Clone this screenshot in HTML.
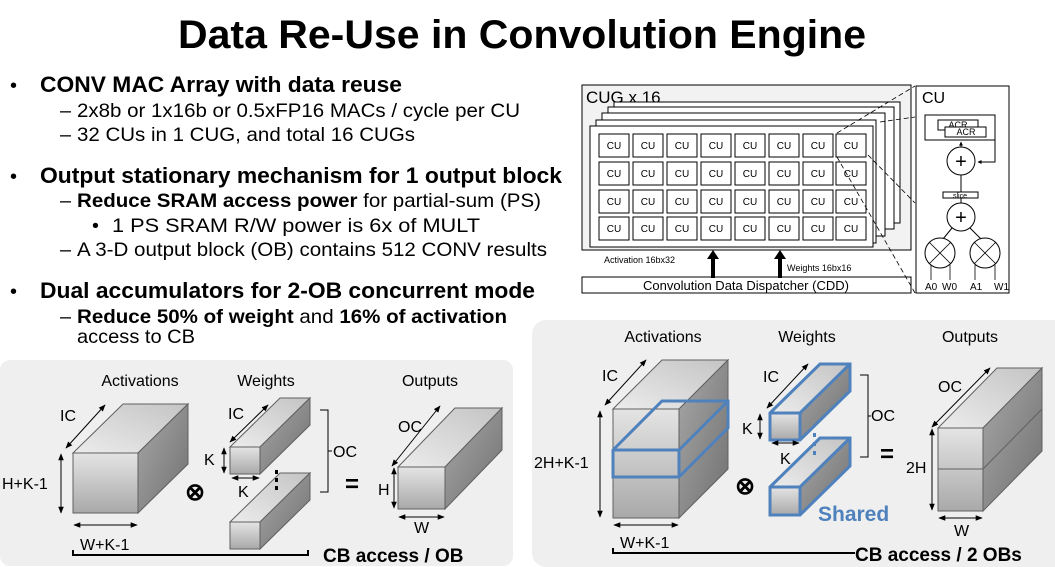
<!DOCTYPE html>
<html><head><meta charset="utf-8"><style>
html,body{margin:0;padding:0;background:#fff;}
svg{display:block;font-family:"Liberation Sans",Arial,sans-serif;}
</style></head><body>
<svg width="1055" height="567" viewBox="0 0 1055 567" xmlns="http://www.w3.org/2000/svg">
<defs>
<marker id="ah" viewBox="0 0 10 10" refX="9" refY="5" markerWidth="7" markerHeight="7" orient="auto-start-reverse"><path d="M0,1 L10,5 L0,9 z" fill="#000"/></marker>
<marker id="ab" viewBox="0 0 10 10" refX="9" refY="5" markerWidth="4" markerHeight="4" orient="auto"><path d="M0,0 L10,5 L0,10 z" fill="#000"/></marker>
<linearGradient id="gf" x1="0" y1="0" x2="0" y2="1"><stop offset="0" stop-color="#e4e4e4"/><stop offset="1" stop-color="#a9a9a9"/></linearGradient>
<linearGradient id="gt" x1="0" y1="1" x2="1" y2="0"><stop offset="0" stop-color="#ececec"/><stop offset="1" stop-color="#c4c4c4"/></linearGradient>
<linearGradient id="gr" x1="0" y1="0" x2="1" y2="1"><stop offset="0" stop-color="#a8a8a8"/><stop offset="1" stop-color="#707070"/></linearGradient>
</defs>

<!-- Title -->
<text x="522" y="48" font-size="40" font-weight="bold" text-anchor="middle" textLength="688" lengthAdjust="spacingAndGlyphs">Data Re-Use in Convolution Engine</text>

<!-- Bullets -->
<g font-size="19.8">
<text x="10" y="92" font-size="20">•</text>
<text x="40" y="92" font-size="22.5" font-weight="bold" textLength="362" lengthAdjust="spacingAndGlyphs">CONV MAC Array with data reuse</text>
<text x="60" y="117">–</text><text x="77" y="117" textLength="443" lengthAdjust="spacingAndGlyphs">2x8b or 1x16b or 0.5xFP16 MACs / cycle per CU</text>
<text x="60" y="141">–</text><text x="77" y="141" textLength="338" lengthAdjust="spacingAndGlyphs">32 CUs in 1 CUG, and total 16 CUGs</text>
<text x="10" y="183" font-size="20">•</text>
<text x="40" y="183" font-size="22.5" font-weight="bold" textLength="522" lengthAdjust="spacingAndGlyphs">Output stationary mechanism for 1 output block</text>
<text x="60" y="207">–</text><text x="77" y="207" textLength="464" lengthAdjust="spacingAndGlyphs"><tspan font-weight="bold">Reduce SRAM access power</tspan> for partial-sum (PS)</text>
<text x="92" y="232">•</text><text x="112" y="232" textLength="368" lengthAdjust="spacingAndGlyphs">1 PS SRAM R/W power is 6x of MULT</text>
<text x="60" y="256">–</text><text x="77" y="256" textLength="470" lengthAdjust="spacingAndGlyphs">A 3-D output block (OB) contains 512 CONV results</text>
<text x="10" y="298" font-size="20">•</text>
<text x="40" y="298" font-size="22.5" font-weight="bold" textLength="495" lengthAdjust="spacingAndGlyphs">Dual accumulators for 2-OB concurrent mode</text>
<text x="60" y="323">–</text><text x="77" y="323" textLength="430" lengthAdjust="spacingAndGlyphs"><tspan font-weight="bold">Reduce 50% of weight</tspan> and <tspan font-weight="bold">16% of activation</tspan></text>
<text x="77" y="343" textLength="118" lengthAdjust="spacingAndGlyphs">access to CB</text>
</g>

<!-- CUG diagram -->
<rect x="582" y="85" width="329" height="165" fill="#f2f2f2" stroke="#000" stroke-width="1"/>
<text x="586" y="103" font-size="17">CUG x 16</text>
<g fill="#fff" stroke="#000" stroke-width="1">
<rect x="614" y="102" width="286" height="121"/>
<rect x="608" y="107" width="286" height="122"/>
<rect x="602" y="113" width="283" height="123"/>
<rect x="596" y="120" width="280" height="123"/>
<rect x="590" y="126" width="283" height="121"/>
</g>
<g fill="#fff" stroke="#000" stroke-width="1">
<rect x="599" y="134" width="30" height="23"/><rect x="633" y="134" width="30" height="23"/><rect x="667" y="134" width="30" height="23"/><rect x="701" y="134" width="30" height="23"/><rect x="735" y="134" width="30" height="23"/><rect x="769" y="134" width="30" height="23"/><rect x="803" y="134" width="30" height="23"/><rect x="836" y="134" width="30" height="23"/>
<rect x="599" y="162" width="30" height="23"/><rect x="633" y="162" width="30" height="23"/><rect x="667" y="162" width="30" height="23"/><rect x="701" y="162" width="30" height="23"/><rect x="735" y="162" width="30" height="23"/><rect x="769" y="162" width="30" height="23"/><rect x="803" y="162" width="30" height="23"/><rect x="836" y="162" width="30" height="23"/>
<rect x="599" y="190" width="30" height="23"/><rect x="633" y="190" width="30" height="23"/><rect x="667" y="190" width="30" height="23"/><rect x="701" y="190" width="30" height="23"/><rect x="735" y="190" width="30" height="23"/><rect x="769" y="190" width="30" height="23"/><rect x="803" y="190" width="30" height="23"/><rect x="836" y="190" width="30" height="23"/>
<rect x="599" y="217" width="30" height="23"/><rect x="633" y="217" width="30" height="23"/><rect x="667" y="217" width="30" height="23"/><rect x="701" y="217" width="30" height="23"/><rect x="735" y="217" width="30" height="23"/><rect x="769" y="217" width="30" height="23"/><rect x="803" y="217" width="30" height="23"/><rect x="836" y="217" width="30" height="23"/>
</g>
<g font-size="10" text-anchor="middle">
<text x="614" y="149">CU</text><text x="648" y="149">CU</text><text x="682" y="149">CU</text><text x="716" y="149">CU</text><text x="750" y="149">CU</text><text x="784" y="149">CU</text><text x="818" y="149">CU</text><text x="851" y="149">CU</text>
<text x="614" y="177">CU</text><text x="648" y="177">CU</text><text x="682" y="177">CU</text><text x="716" y="177">CU</text><text x="750" y="177">CU</text><text x="784" y="177">CU</text><text x="818" y="177">CU</text><text x="851" y="177">CU</text>
<text x="614" y="205">CU</text><text x="648" y="205">CU</text><text x="682" y="205">CU</text><text x="716" y="205">CU</text><text x="750" y="205">CU</text><text x="784" y="205">CU</text><text x="818" y="205">CU</text><text x="851" y="205">CU</text>
<text x="614" y="232">CU</text><text x="648" y="232">CU</text><text x="682" y="232">CU</text><text x="716" y="232">CU</text><text x="750" y="232">CU</text><text x="784" y="232">CU</text><text x="818" y="232">CU</text><text x="851" y="232">CU</text>
</g>
<rect x="582" y="277" width="329" height="16" fill="#fff" stroke="#000"/>
<text x="746" y="290" font-size="13" text-anchor="middle">Convolution Data Dispatcher (CDD)</text>
<text x="604" y="263" font-size="9">Activation 16bx32</text>
<text x="787" y="271" font-size="9">Weights 16bx16</text>
<g fill="#000"><rect x="711" y="258" width="4" height="20"/><path d="M707,259 L713,250 L719,259 z"/><rect x="778" y="258" width="4" height="20"/><path d="M774,259 L780,250 L786,259 z"/></g>

<!-- dashed lines -->
<g stroke="#000" stroke-dasharray="5,3" stroke-width="0.8">
<line x1="837" y1="133" x2="915" y2="86"/>
<line x1="880" y1="122" x2="915" y2="117"/>
<line x1="868" y1="155" x2="915" y2="203"/>
<line x1="837" y1="157" x2="915" y2="293"/>
</g>

<!-- CU detail -->
<rect x="916" y="86" width="93" height="207" fill="#fff" stroke="#000"/>
<text x="922" y="103" font-size="16">CU</text>
<rect x="925" y="115" width="70" height="25" fill="#fff" stroke="#000"/>
<rect x="938" y="120" width="40" height="10" fill="#fff" stroke="#000"/>
<text x="958" y="128" font-size="9" text-anchor="middle">ACR</text>
<rect x="945" y="127" width="41" height="10" fill="#fff" stroke="#000"/>
<text x="966" y="135" font-size="9" text-anchor="middle">ACR</text>
<line x1="961" y1="147" x2="961" y2="142" stroke="#000" marker-end="url(#ab)"/>
<polyline points="995,140 995,162 978,162" fill="none" stroke="#000" marker-end="url(#ab)"/>
<circle cx="961" cy="161" r="14" fill="#fff" stroke="#000"/>
<text x="961" y="168" font-size="20" text-anchor="middle">+</text>
<line x1="961" y1="175" x2="961" y2="203" stroke="#000"/>
<rect x="943" y="192" width="35" height="6" fill="#fff" stroke="#000"/>
<text x="960" y="198" font-size="7" text-anchor="middle">slice</text>
<circle cx="961" cy="217" r="14" fill="#fff" stroke="#000"/>
<text x="961" y="224" font-size="20" text-anchor="middle">+</text>
<line x1="952" y1="228" x2="943" y2="239" stroke="#000"/>
<line x1="970" y1="228" x2="981" y2="239" stroke="#000"/>
<g fill="#fff" stroke="#000">
<circle cx="940" cy="253" r="15"/><circle cx="985" cy="253" r="15"/>
</g>
<g stroke="#000" stroke-width="0.8">
<line x1="929" y1="242" x2="951" y2="264"/><line x1="951" y1="242" x2="929" y2="264"/>
<line x1="974" y1="242" x2="996" y2="264"/><line x1="996" y1="242" x2="974" y2="264"/>
<line x1="931" y1="265" x2="931" y2="280"/><line x1="950" y1="265" x2="950" y2="280"/>
<line x1="975" y1="265" x2="975" y2="280"/><line x1="995" y1="265" x2="995" y2="280"/>
</g>
<g font-size="10"><text x="925" y="290">A0</text><text x="942" y="290">W0</text><text x="970" y="290">A1</text><text x="994" y="290">W1</text></g>

<!-- Left panel -->
<rect x="0" y="360" width="513" height="206" rx="10" fill="#efefef"/>
<g font-size="16" text-anchor="middle"><text x="140" y="386">Activations</text><text x="266" y="386">Weights</text><text x="430" y="386">Outputs</text></g>
<g stroke="#606060" stroke-width="1">
<rect x="73" y="453" width="65" height="60" fill="url(#gf)"/>
<polygon points="73,453 123,404 188,404 138,453" fill="url(#gt)"/>
<polygon points="138,453 188,404 188,464 138,513" fill="url(#gr)"/>
<rect x="230" y="447" width="30" height="27" fill="url(#gf)"/>
<polygon points="230,447 280,398 310,398 260,447" fill="url(#gt)"/>
<polygon points="260,447 310,398 310,425 260,474" fill="url(#gr)"/>
<rect x="230" y="522" width="30" height="27" fill="url(#gf)"/>
<polygon points="230,522 280,473 310,473 260,522" fill="url(#gt)"/>
<polygon points="260,522 310,473 310,500 260,549" fill="url(#gr)"/>
<rect x="398" y="467" width="47" height="42" fill="url(#gf)"/>
<polygon points="398,467 455,408 502,408 445,467" fill="url(#gt)"/>
<polygon points="445,467 502,408 502,450 445,509" fill="url(#gr)"/>
</g>
<g stroke="#000" stroke-width="1" marker-start="url(#ah)" marker-end="url(#ah)">
<line x1="66" y1="448" x2="105" y2="405"/>
<line x1="61" y1="454" x2="61" y2="513"/>
<line x1="74" y1="525" x2="137" y2="525"/>
<line x1="230" y1="442" x2="268" y2="405"/>
<line x1="224" y1="448" x2="224" y2="473"/>
<line x1="232" y1="478" x2="259" y2="478"/>
<line x1="392" y1="466" x2="440" y2="406"/>
<line x1="394" y1="468" x2="394" y2="508"/>
<line x1="399" y1="517" x2="444" y2="517"/>
</g>
<g font-size="16">
<text x="60" y="421">IC</text><text x="2" y="489">H+K-1</text><text x="80" y="550">W+K-1</text>
<text x="228" y="419">IC</text><text x="204" y="465">K</text><text x="238" y="497">K</text>
<text x="398" y="432">OC</text><text x="378" y="495">H</text><text x="414" y="533">W</text>
<text x="333" y="457">OC</text>
</g>
<g fill="#000"><rect x="275" y="470" width="3" height="4"/><rect x="275" y="478" width="3" height="4"/><rect x="275" y="486" width="3" height="4"/></g>
<polyline points="320,410 328,410 328,492 320,492" fill="none" stroke="#000"/>
<line x1="328" y1="451" x2="332" y2="451" stroke="#000"/>
<text x="195" y="500" font-size="24" font-weight="bold" text-anchor="middle">⊗</text>
<text x="352" y="492" font-size="24" font-weight="bold" text-anchor="middle">=</text>
<polyline points="73,550 73,555 308,555 308,550" fill="none" stroke="#000" stroke-width="2"/>
<text x="323" y="562" font-size="19" font-weight="bold">CB access / OB</text>

<!-- Right panel -->
<rect x="532" y="320" width="540" height="247" rx="14" fill="#efefef"/>
<g font-size="16" text-anchor="middle"><text x="663" y="342">Activations</text><text x="807" y="342">Weights</text><text x="970" y="342">Outputs</text></g>
<g stroke="#606060" stroke-width="1">
<rect x="613" y="409" width="66" height="109" fill="url(#gf)"/>
<polygon points="613,409 662,360 728,360 679,409" fill="url(#gt)"/>
<polygon points="679,409 728,360 728,469 679,518" fill="url(#gr)"/>
<rect x="770" y="413" width="30" height="27" fill="url(#gf)"/>
<polygon points="770,413 820,364 850,364 800,413" fill="url(#gt)"/>
<polygon points="800,413 850,364 850,391 800,440" fill="url(#gr)"/>
<rect x="770" y="487" width="30" height="28" fill="url(#gf)"/>
<polygon points="770,487 820,438 850,438 800,487" fill="url(#gt)"/>
<polygon points="800,487 850,438 850,466 800,515" fill="url(#gr)"/>
<rect x="938" y="428" width="45" height="83" fill="url(#gf)"/>
<polygon points="938,428 997,368 1042,368 983,428" fill="url(#gt)"/>
<polygon points="983,428 1042,368 1042,451 983,511" fill="url(#gr)"/>
<line x1="938" y1="469" x2="983" y2="469"/>
<line x1="983" y1="469" x2="1042" y2="409"/>
</g>
<g fill="none" stroke="#4f81bd" stroke-width="3" stroke-linejoin="miter">
<polygon points="613,450 662,401 728,401 728,428 679,477 613,477"/>
<polyline points="613,450 679,450 728,401"/><line x1="679" y1="450" x2="679" y2="477"/>
<polygon points="770,413 820,364 850,364 850,391 800,440 770,440"/>
<polyline points="770,413 800,413 850,364"/><line x1="800" y1="413" x2="800" y2="440"/>
<polygon points="770,487 820,438 850,438 850,466 800,515 770,515"/>
<polyline points="770,487 800,487 850,438"/><line x1="800" y1="487" x2="800" y2="515"/>
</g>
<g fill="#4f81bd"><rect x="813" y="433" width="3" height="4"/><rect x="813" y="442" width="3" height="4"/><rect x="813" y="451" width="3" height="4"/></g>
<g stroke="#000" stroke-width="1" marker-start="url(#ah)" marker-end="url(#ah)">
<line x1="605" y1="405" x2="646" y2="360"/>
<line x1="600" y1="411" x2="600" y2="517"/>
<line x1="614" y1="525" x2="678" y2="525"/>
<line x1="767" y1="408" x2="808" y2="364"/>
<line x1="760" y1="414" x2="760" y2="439"/>
<line x1="772" y1="443" x2="799" y2="443"/>
<line x1="932" y1="427" x2="990" y2="368"/>
<line x1="932" y1="429" x2="932" y2="510"/>
<line x1="939" y1="518" x2="982" y2="518"/>
</g>
<g font-size="16">
<text x="602" y="381">IC</text><text x="534" y="468">2H+K-1</text><text x="620" y="548">W+K-1</text>
<text x="763" y="382">IC</text><text x="742" y="434">K</text><text x="780" y="464">K</text>
<text x="938" y="392">OC</text><text x="906" y="473">2H</text><text x="954" y="536">W</text>
<text x="871" y="421">OC</text>
</g>
<polyline points="860,375 868,375 868,457 860,457" fill="none" stroke="#000"/>
<line x1="868" y1="416" x2="871" y2="416" stroke="#000"/>
<text x="745" y="494" font-size="24" font-weight="bold" text-anchor="middle">⊗</text>
<text x="887" y="462" font-size="24" font-weight="bold" text-anchor="middle">=</text>
<text x="818" y="521" font-size="21" font-weight="bold" fill="#4f81bd">Shared</text>
<polyline points="613,548 613,553 855,553" fill="none" stroke="#000" stroke-width="2"/>
<text x="855" y="561" font-size="19" font-weight="bold">CB access / 2 OBs</text>
</svg>
</body></html>
